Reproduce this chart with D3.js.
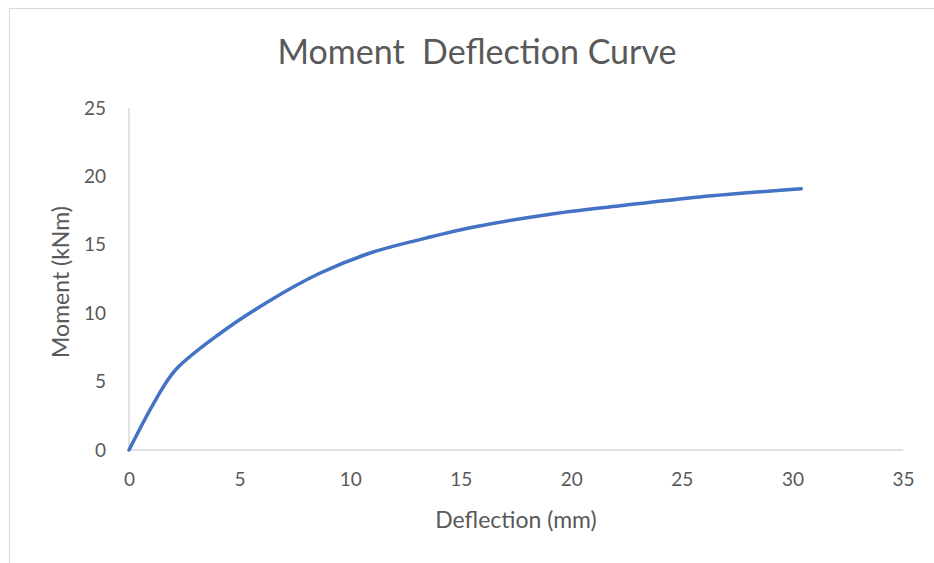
<!DOCTYPE html>
<html>
<head>
<meta charset="utf-8">
<style>
body { margin: 0; background: #fff; font-family: Lato, "Open Sans", sans-serif; }
#chart { width: 934px; height: 563px; }
</style>
</head>
<body>
<div id="chart"></div>
<script src="https://d3js.org/d3.v7.min.js"></script>
<script>

// values
var deflection = [0, 1.2, 2.1, 4.1, 6.4, 8.6, 10.9, 13.2, 15.6, 18.9, 22.2, 25.8, 30.4];
var moment     = [0, 3.65, 5.85, 8.5, 10.95, 12.9, 14.4, 15.4, 16.3, 17.2, 17.85, 18.5, 19.1];
var xTicks = [0, 5, 10, 15, 20, 25, 30, 35];
var yTicks = [0, 5, 10, 15, 20, 25];

var data = deflection.map(function(d, i) { return {x: d, y: moment[i]}; });

var W = 934, H = 563;
var svg = d3.select("#chart").append("svg")
    .attr("width", W)
    .attr("height", H);

// chart frame
svg.append("rect")
    .attr("x", 9.5).attr("y", 8.5)
    .attr("width", W + 10).attr("height", H + 10)
    .attr("fill", "#fff")
    .attr("stroke", "#d9d9d9");

var x = d3.scaleLinear().domain([0, 35]).range([129, 903]);
var y = d3.scaleLinear().domain([0, 25]).range([450, 108]);

// axis lines, no ticks
svg.append("line")
    .attr("x1", x(0)).attr("x2", x(0))
    .attr("y1", y(25)).attr("y2", y(0))
    .attr("stroke", "#d9d9d9").attr("stroke-width", 1.5);

svg.append("line")
    .attr("x1", x(0)).attr("x2", x(35))
    .attr("y1", y(0)).attr("y2", y(0))
    .attr("stroke", "#d9d9d9").attr("stroke-width", 1.5);

// x tick labels
var xAxis = svg.append("g")
    .attr("transform", "translate(0," + y(0) + ")")
    .call(d3.axisBottom(x).tickValues(xTicks).tickSize(0).tickPadding(23));
xAxis.select(".domain").remove();
xAxis.selectAll("text")
    .attr("fill", "#595959")
    .style("font-size", "19px")
    .style("font-family", "Lato, sans-serif");

// y tick labels
var yAxis = svg.append("g")
    .attr("transform", "translate(" + x(0) + ",0)")
    .call(d3.axisLeft(y).tickValues(yTicks).tickSize(0).tickPadding(23));
yAxis.select(".domain").remove();
yAxis.selectAll("text")
    .attr("fill", "#595959")
    .style("font-size", "19px")
    .style("font-family", "Lato, sans-serif");

// the curve
var line = d3.line()
    .x(function(d) { return x(d.x); })
    .y(function(d) { return y(d.y); })
    .curve(d3.curveCatmullRom.alpha(0.5));

svg.append("path")
    .datum(data)
    .attr("fill", "none")
    .attr("stroke", "#4472c4")
    .attr("stroke-width", 3.5)
    .attr("stroke-linecap", "round")
    .attr("stroke-linejoin", "round")
    .attr("d", line);

// title
svg.append("text")
    .attr("x", 477).attr("y", 64)
    .attr("text-anchor", "middle")
    .attr("fill", "#595959")
    .style("font-size", "34px")
    .style("white-space", "pre")
    .attr("xml:space", "preserve")
    .text("Moment  Deflection Curve");

// axis titles
svg.append("text")
    .attr("x", 516).attr("y", 528)
    .attr("text-anchor", "middle")
    .attr("fill", "#595959")
    .style("font-size", "23px")
    .text("Deflection (mm)");

svg.append("text")
    .attr("transform", "translate(69,282) rotate(-90)")
    .attr("text-anchor", "middle")
    .attr("fill", "#595959")
    .style("font-size", "23px")
    .text("Moment (kNm)");

</script>
</body>
</html>
